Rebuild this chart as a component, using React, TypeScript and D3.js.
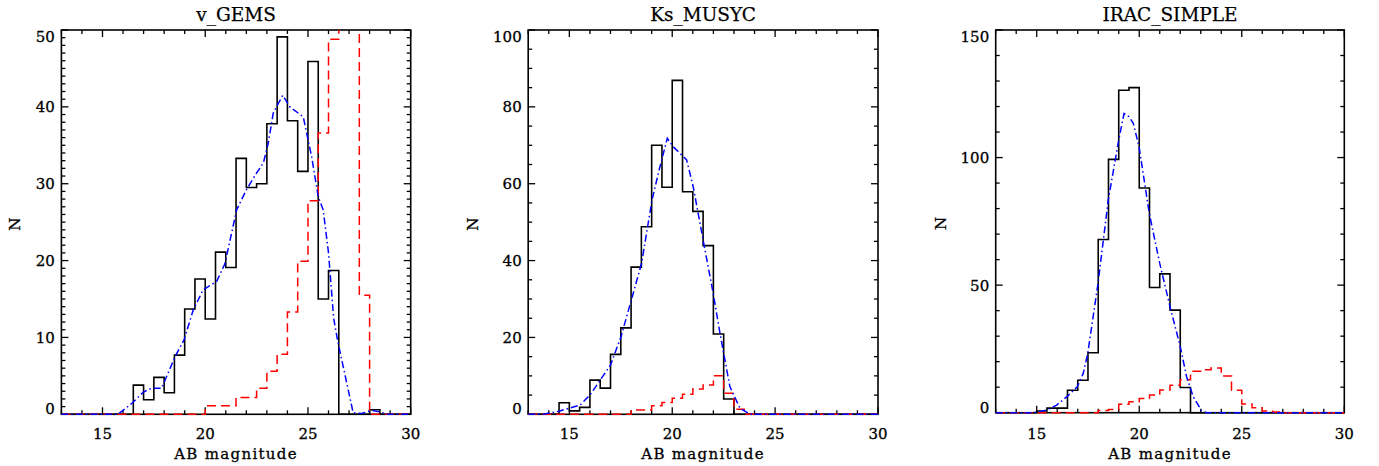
import React from "react";
import * as d3 from "d3";

// ---------- data ----------
const binWidth = 0.5;
const xDomain: [number, number] = [13, 30];
const xMajorTicks = [15, 20, 25, 30];

const titles = ["v_GEMS", "Ks_MUSYC", "IRAC_SIMPLE"];
const yMaxes = [50, 100, 150];
const yMajorSteps = [10, 20, 50];
const yMinorSteps = [1, 5, 10];

// v_GEMS
const vGemsObsStart = 16.5;
const vGemsObs = [3.8, 1.9, 4.8, 2.8, 7.7, 13.7, 17.6, 12.4, 21.1, 19.1, 33.3, 29.5, 30.0, 37.8, 49.1, 38.2, 31.6, 45.9, 15.0, 18.7, 0, 0, 0, 0.6];
const vGemsMockStart = 20;
const vGemsMock = [1.1, 1.1, 1.1, 2.2, 2.2, 3.4, 5.6, 7.8, 13.3, 19.9, 27.8, 36.6, 48.8, 60, 60, 15.5];
const vGemsModelX = [13, 15.75, 16.42, 16.99, 17.39, 17.88, 18.53, 18.97, 19.42, 19.9, 20.56, 20.96, 21.53, 22.02, 22.5, 22.83, 23.07, 23.31, 23.77, 24.12, 24.77, 25.18, 25.5, 25.74, 26.0, 26.25, 26.45, 27.2, 27.6, 28.1, 28.5, 28.9, 30];
const vGemsModelY = [0, 0, 1.4, 2.9, 3.4, 3.4, 7.5, 9.7, 13.6, 16.2, 17.3, 19.6, 26.6, 29.3, 31.4, 32.7, 35.3, 39.2, 41.5, 40.0, 38.7, 33.5, 28.3, 26.6, 21.0, 12.5, 9.5, 0.2, 0.1, 0.5, 0.3, 0, 0];

// Ks_MUSYC
const ksObsStart = 14.5;
const ksObs = [3.0, 0.9, 1.8, 8.9, 6.8, 15.6, 22.5, 38.3, 48.8, 70.0, 59.1, 86.9, 57.9, 52.8, 43.9, 20.9, 4.0];
const ksMockStart = 18;
const ksMock = [1.1, 1.1, 2.2, 3.1, 4.2, 5.2, 6.6, 7.6, 10.0, 5.5, 1.3];
const ksModelX = [13, 13.73, 14.5, 15.0, 15.52, 16.0, 16.5, 17.0, 17.51, 18.01, 18.51, 19.02, 19.4, 19.76, 20.05, 20.7, 21.02, 21.5, 21.99, 22.32, 22.5, 22.8, 23.29, 23.78, 30];
const ksModelY = [0, 0, 0.8, 1.6, 2.4, 5.0, 8.9, 12.8, 20.2, 29.7, 39.3, 55.8, 64.4, 71.8, 69.6, 66.2, 59.2, 45.4, 31.5, 21.1, 15.9, 7.2, 1.6, 0, 0];

// IRAC_SIMPLE
const iracObsStart = 15;
const iracObs = [0.65, 1.8, 1.8, 8.8, 12.7, 23.5, 67.9, 99.3, 126.4, 127.4, 88.1, 49.1, 54.4, 40.2, 9.9];
const iracMockStart = 18;
const iracMock = [0.9, 1.3, 3.3, 4.3, 5.6, 6.9, 8.9, 10.8, 12.9, 16.2, 16.8, 17.5, 14.4, 8.8, 3.4, 1.9, 0.7, 0.3];
const iracModelX = [13, 14.85, 15.49, 15.97, 16.48, 16.98, 17.27, 17.49, 17.99, 18.49, 19.0, 19.26, 19.5, 19.71, 19.99, 20.49, 21.0, 21.5, 22.0, 22.31, 22.63, 23.04, 23.29, 30];
const iracModelY = [0, 0, 1.0, 3.0, 6.3, 10.2, 15.4, 23.3, 50.7, 83.4, 106.9, 117.3, 116, 113.4, 104.3, 78.1, 58.5, 41.6, 25.9, 14.1, 6.3, 0.8, 0, 0];

const obsStarts = [vGemsObsStart, ksObsStart, iracObsStart];
const obsValues = [vGemsObs, ksObs, iracObs];
const mockStarts = [vGemsMockStart, ksMockStart, iracMockStart];
const mockValues = [vGemsMock, ksMock, iracMock];
const modelXs = [vGemsModelX, ksModelX, iracModelX];
const modelYs = [vGemsModelY, ksModelY, iracModelY];

// ---------- layout ----------
const W = 1379;
const H = 466;
const panels = [
  { left: 61.4, right: 410.7, top: 30, bottom: 414.3 },
  { left: 528.2, right: 878, top: 30, bottom: 414.3 },
  { left: 995.7, right: 1344.3, top: 30, bottom: 412.7 },
];
const FONT = "'DejaVu Serif', serif";

function histPoints(start: number, values: number[]): [number, number][] {
  const pts: [number, number][] = [[xDomain[0], 0]];
  values.forEach((v, i) => pts.push([start + i * binWidth, v]));
  pts.push([start + values.length * binWidth, 0]);
  pts.push([xDomain[1], 0]);
  return pts;
}

function Panel({ idx }: { idx: number }) {
  const p = panels[idx];
  const x = d3.scaleLinear().domain(xDomain).range([p.left, p.right]);
  const y = d3.scaleLinear().domain([0, yMaxes[idx]]).range([p.bottom, p.top]);
  const step = d3
    .line<[number, number]>()
    .x((d) => x(d[0]))
    .y((d) => y(d[1]))
    .curve(d3.curveStepAfter);
  const poly = d3
    .line<[number, number]>()
    .x((d) => x(d[0]))
    .y((d) => y(d[1]));
  const obs = step(histPoints(obsStarts[idx], obsValues[idx])) || "";
  const mock = step(histPoints(mockStarts[idx], mockValues[idx])) || "";
  const model =
    poly(modelXs[idx].map((v, i) => [v, modelYs[idx][i]] as [number, number])) || "";

  const xMinor = d3.range(13, 30.001, 1).filter((v) => !xMajorTicks.includes(v));
  const yMajor = d3.range(0, yMaxes[idx] + 0.001, yMajorSteps[idx]);
  const yMinor = d3
    .range(0, yMaxes[idx] + 0.001, yMinorSteps[idx])
    .filter((v) => Math.abs(v / yMajorSteps[idx] - Math.round(v / yMajorSteps[idx])) > 1e-6);
  const MAJ = 7;
  const MIN = 4;
  const clipId = `clip-${idx}`;
  const cx = (p.left + p.right) / 2;
  const cy = (p.top + p.bottom) / 2;

  return (
    <g>
      <defs>
        <clipPath id={clipId}>
          <rect x={p.left} y={p.top} width={p.right - p.left} height={p.bottom - p.top + 2} />
        </clipPath>
      </defs>
      {/* ticks */}
      <g stroke="#000" strokeWidth={1.3}>
        {xMajorTicks.map((v) => (
          <g key={`xM${v}`}>
            <line x1={x(v)} x2={x(v)} y1={p.bottom} y2={p.bottom - MAJ} />
            <line x1={x(v)} x2={x(v)} y1={p.top} y2={p.top + MAJ} />
          </g>
        ))}
        {xMinor.map((v) => (
          <g key={`xm${v}`}>
            <line x1={x(v)} x2={x(v)} y1={p.bottom} y2={p.bottom - MIN} />
            <line x1={x(v)} x2={x(v)} y1={p.top} y2={p.top + MIN} />
          </g>
        ))}
        {yMajor.map((v) => (
          <g key={`yM${v}`}>
            <line x1={p.left} x2={p.left + MAJ} y1={y(v)} y2={y(v)} />
            <line x1={p.right} x2={p.right - MAJ} y1={y(v)} y2={y(v)} />
          </g>
        ))}
        {yMinor.map((v) => (
          <g key={`ym${v}`}>
            <line x1={p.left} x2={p.left + MIN} y1={y(v)} y2={y(v)} />
            <line x1={p.right} x2={p.right - MIN} y1={y(v)} y2={y(v)} />
          </g>
        ))}
      </g>
      <rect
        x={p.left}
        y={p.top}
        width={p.right - p.left}
        height={p.bottom - p.top}
        fill="none"
        stroke="#000"
        strokeWidth={1.6}
      />
      <g clipPath={`url(#${clipId})`}>
        <path d={obs} fill="none" stroke="#000" strokeWidth={1.6} />
        <path d={mock} fill="none" stroke="#ff0000" strokeWidth={1.5} strokeDasharray="9,5" />
        <path d={model} fill="none" stroke="#0000ff" strokeWidth={1.5} strokeDasharray="7,3,1.5,3" />
      </g>
      {/* labels */}
      <g fontFamily={FONT} fontSize={15} fill="#000" stroke="#000" strokeWidth={0.3}>
        {xMajorTicks.map((v) => (
          <text key={`xl${v}`} x={x(v)} y={439} textAnchor="middle">
            {v}
          </text>
        ))}
        {yMajor.map((v, i) => {
          let yy = y(v) + 5.5;
          if (i === 0) yy = p.bottom;
          if (i === yMajor.length - 1) yy = p.top + 11.5;
          return (
            <text key={`yl${v}`} x={p.left - 6.5} y={yy} textAnchor="end">
              {v}
            </text>
          );
        })}
        <text x={cx} y={459} textAnchor="middle" letterSpacing={1.3}>
          AB magnitude
        </text>
        <text
          transform={`translate(${idx === 0 ? p.left - 41 : p.left - 50},${cy + 2}) rotate(-90)`}
          textAnchor="middle"
        >
          N
        </text>
      </g>
      <text
        x={cx}
        y={21}
        textAnchor="middle"
        fontFamily={FONT}
        fontSize={18.5}
        fill="#000"
        stroke="#000"
        strokeWidth={0.25}
      >
        {titles[idx]}
      </text>
    </g>
  );
}

export default function App() {
  return (
    <svg
      width={W}
      height={H}
      viewBox={`0 0 ${W} ${H}`}
      style={{ position: "absolute", left: 0, top: 0, background: "#fff" }}
    >
      <rect x={0} y={0} width={W} height={H} fill="#fff" />
      {[0, 1, 2].map((i) => (
        <Panel key={i} idx={i} />
      ))}
    </svg>
  );
}
